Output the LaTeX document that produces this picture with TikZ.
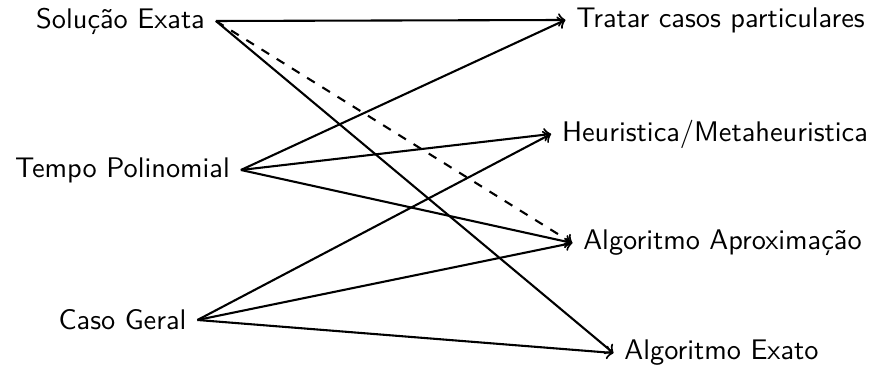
\documentclass[tikz,border=0pt]{standalone}
\usetikzlibrary{arrows}
\begin{document}
\begin{tikzpicture}[x=0.335pt,y=-0.335pt,
  lbl/.style={font=\fontsize{9.5}{11}\selectfont\sffamily, inner sep=3.5pt},
  conn/.style={->, line width=0.7pt}]
\useasboundingbox (0,0) rectangle (879,374);
\node[lbl] (se) at (120.5,21) {Solução Exata};
\node[lbl] (tp) at (122.5,170) {Tempo Polinomial};
\node[lbl] (cg) at (122.5,320) {Caso Geral};
\node[lbl] (tc) at (720.5,20) {Tratar casos particulares};
\node[lbl] (hm) at (715,134) {Heuristica/Metaheuristica};
\node[lbl] (aa) at (722.5,243) {Algoritmo Aproximação};
\node[lbl] (ae) at (721.5,353) {Algoritmo Exato};
\draw[conn] (se.east) -- (tc.west);
\draw[conn, dashed] (se.east) -- (aa.west);
\draw[conn] (se.east) -- (ae.west);
\draw[conn] (tp.east) -- (tc.west);
\draw[conn] (tp.east) -- (hm.west);
\draw[conn] (tp.east) -- (aa.west);
\draw[conn] (cg.east) -- (hm.west);
\draw[conn] (cg.east) -- (aa.west);
\draw[conn] (cg.east) -- (ae.west);
\end{tikzpicture}
\end{document}
